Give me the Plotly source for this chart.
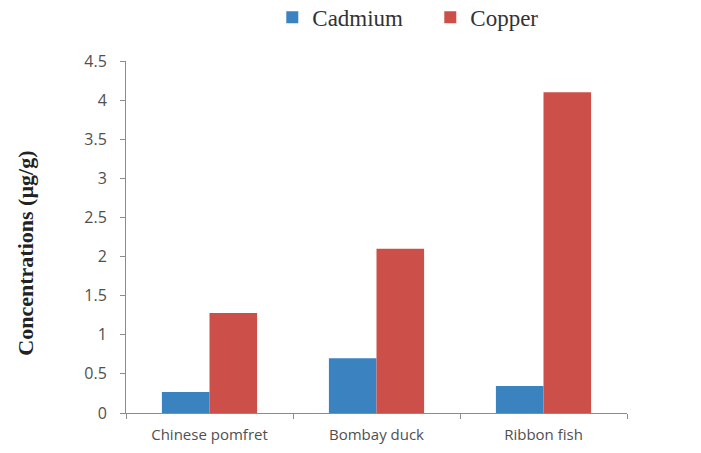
import plotly.graph_objects as go

# Fish species and measured metal concentrations (µg/g)
species = ["Chinese pomfret", "Bombay duck", "Ribbon fish"]
cadmium = [0.27, 0.70, 0.345]
copper = [1.28, 2.10, 4.10]
y_ticks = [0, 0.5, 1, 1.5, 2, 2.5, 3, 3.5, 4, 4.5]
y_tick_text = ["0", "0.5", "1", "1.5", "2", "2.5", "3", "3.5", "4", "4.5"]

fig = go.Figure()
fig.add_trace(go.Bar(name="Cadmium", x=species, y=cadmium,
                     marker=dict(color="#3B82C0", line=dict(width=0))))
fig.add_trace(go.Bar(name="Copper", x=species, y=copper,
                     marker=dict(color="#CC4F4A", line=dict(width=0))))

axis_color = "#8C8C8C"
fig.update_layout(
    width=701, height=453,
    margin=dict(l=126, r=74, t=61, b=40, autoexpand=False),
    paper_bgcolor="white", plot_bgcolor="white",
    barmode="group", bargap=0.43, bargroupgap=0,
    showlegend=True,
    legend=dict(orientation="h", xref="paper", yref="container",
                x=0.292, y=0.962, xanchor="left", yanchor="middle",
                font=dict(family="Liberation Serif", size=23, color="#333333"),
                itemwidth=30, entrywidth=113, entrywidthmode="pixels",
                traceorder="normal"),
    xaxis=dict(showline=True, linecolor=axis_color, linewidth=1,
               ticks="outside", ticklen=5, tickcolor=axis_color,
               tickson="boundaries", showgrid=False, automargin=False,
               ticklabelstandoff=8,
               tickfont=dict(family="Open Sans", size=15, color="#505050")),
    yaxis=dict(range=[0, 4.5], tickvals=y_ticks, ticktext=y_tick_text,
               showline=True, linecolor=axis_color, linewidth=1,
               ticks="outside", ticklen=5, tickcolor=axis_color,
               showgrid=False, zeroline=False, automargin=False,
               ticklabelstandoff=10,
               tickfont=dict(family="Open Sans", size=16, color="#505050")),
    annotations=[dict(text="<b>Concentrations (µg/g)</b>", textangle=-90,
                      xref="paper", yref="paper", x=-0.2, y=0.455,
                      xanchor="center", yanchor="middle", showarrow=False,
                      font=dict(family="Liberation Serif", size=22, color="#222222"))],
)

fig.write_html("out.html")
